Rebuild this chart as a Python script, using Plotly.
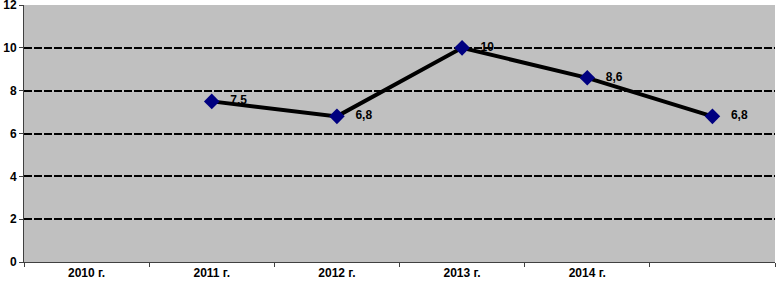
import plotly.graph_objects as go

categories = ["2010 г.", "2011 г.", "2012 г.", "2013 г.", "2014 г.", " "]
values = [None, 7.5, 6.8, 10, 8.6, 6.8]
labels = ["", "7,5", "6,8", "10", "8,6", "6,8"]
y_ticks = [0, 2, 4, 6, 8, 10, 12]

fig = go.Figure()
fig.add_trace(go.Scatter(
    x=categories, y=values, mode="lines+markers+text",
    text=["   " + t if t else "" for t in labels],
    textposition="middle right",
    textfont=dict(family="Liberation Sans, Arial", size=12, color="black", weight="bold"),
    line=dict(color="black", width=4),
    marker=dict(symbol="diamond", size=12, color="#000080"),
    connectgaps=False,
    cliponaxis=False,
    showlegend=False,
))

fig.update_layout(
    width=776, height=282,
    margin=dict(l=24, r=1, t=5, b=20),
    paper_bgcolor="white",
    plot_bgcolor="#C0C0C0",
    font=dict(family="Liberation Sans, Arial", size=12, color="black"),
    xaxis=dict(
        type="category", categoryorder="array", categoryarray=categories,
        tickson="boundaries", ticks="outside", ticklen=4, tickcolor="#404040",
        showline=True, linecolor="#404040", linewidth=1,
        showgrid=False, range=[-0.5, 5.5], automargin=False,
        tickfont=dict(family="Liberation Sans, Arial", size=12, color="black", weight="bold"),
    ),
    yaxis=dict(
        range=[0, 12], tickvals=y_ticks, ticks="outside", ticklen=4, tickcolor="#404040",
        showline=True, linecolor="#404040", linewidth=1, automargin=False,
        ticklabeloverflow="allow",
        showgrid=True, gridcolor="black", gridwidth=1.5, griddash="8px,2px",
        zeroline=False,
        tickfont=dict(family="Liberation Sans, Arial", size=12, color="black", weight="bold"),
    ),
)

fig.write_html(
    "out.html",
    config={"displayModeBar": False},
    post_script="document.body.style.margin='0';document.body.style.overflow='hidden';",
)
